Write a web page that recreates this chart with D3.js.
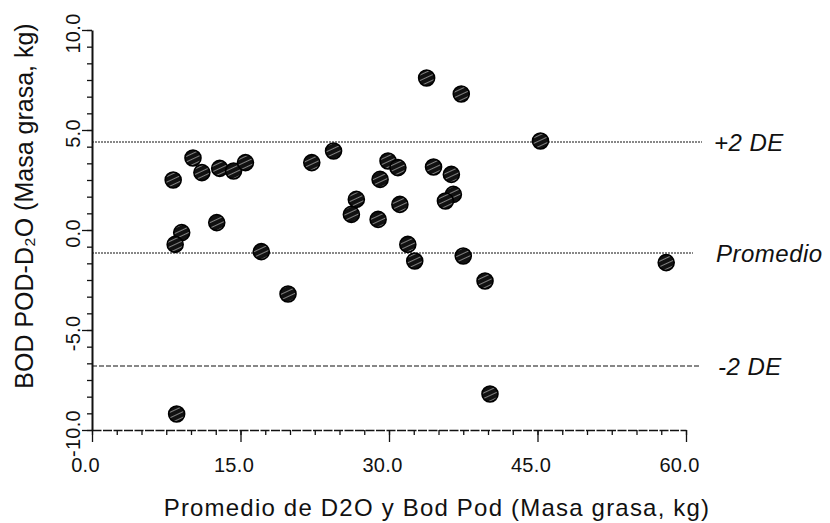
<!DOCTYPE html>
<html><head><meta charset="utf-8">
<script src="https://cdn.jsdelivr.net/npm/d3@7"></script>
<style>body{margin:0;background:#fff}svg text{font-family:"Liberation Sans",Arial,sans-serif;fill:#111}</style>
</head><body><svg id="c" width="830" height="523"></svg>
<script>
const meanX = [8.2,10.2,11.1,12.9,14.3,15.5,9.06,8.4,12.6,17.1,19.8,22.2,24.4,26.7,26.2,28.9,29.9,30.9,29.1,31.1,31.9,32.6,33.8,34.5,37.3,36.3,36.5,35.7,37.5,39.7,45.3,58.0,40.2,8.55];
const diffY = [2.5,3.6,2.87,3.08,2.95,3.37,-0.13,-0.72,0.37,-1.08,-3.2,3.37,3.95,1.53,0.78,0.53,3.45,3.12,2.53,1.28,-0.72,-1.55,7.6,3.15,6.8,2.78,1.78,1.45,-1.3,-2.55,4.45,-1.63,-8.2,-9.2];
const refNames = ["+2 DE","Promedio","-2 DE"];
const refValues = [4.4,-1.15,-6.8];
const xTicks = [0,15,30,45,60];
const yTicks = [-10,-5,0,5,10];
const xTitle = "Promedio de D2O y Bod Pod (Masa grasa, kg)";
const yTitle = "BOD POD-D\u2082O (Masa grasa, kg)";

const fmt = d => d3.format(".1f")(d).replace("\u2212","-");
const svg = d3.select("#c");
const x = d3.scaleLinear().domain([0,60]).range([92,686]);
const y = d3.scaleLinear().domain([-10,10]).range([430,30]);

const defs = svg.append("defs");
const pat = defs.append("pattern").attr("id","hatch").attr("patternUnits","userSpaceOnUse").attr("width",5).attr("height",5).attr("patternTransform","rotate(65)");
pat.append("rect").attr("width",5).attr("height",5).attr("fill","#111");
pat.append("line").attr("x1",0).attr("y1",0).attr("x2",0).attr("y2",5).attr("stroke","#ddd").attr("stroke-width",1.1);

// reference lines
const refEnds = [702,693,700];
const refDash = ["2,1","2,1","5,2"];
const refLabelX = [714,716,718];
refValues.forEach((v,i)=>{
  svg.append("line").attr("x1",x(0)).attr("x2",refEnds[i]).attr("y1",y(v)).attr("y2",y(v))
    .attr("stroke","#111").attr("stroke-width",1.2).attr("stroke-dasharray",refDash[i]);
  svg.append("text").attr("x",refLabelX[i]).attr("y",y(v)+9)
    .attr("font-size",24).attr("font-style","italic").attr("letter-spacing",0.5).text(refNames[i]);
});

// axes
const xMinor = d3.range(0,60.01,2.5);
const yMinor = d3.range(-10,10.01,5/6);
const gx = svg.append("g").attr("transform",`translate(0,${y(-10)})`);
gx.call(d3.axisBottom(x).tickValues(xMinor).tickSize(5).tickSizeOuter(0).tickFormat(""));
gx.selectAll(".tick line").attr("stroke-width",1.3).attr("stroke","#111");
gx.select(".domain").attr("stroke","#111").attr("stroke-width",1.6).attr("stroke-dasharray","9,1.5");
const gx2 = svg.append("g").attr("transform",`translate(0,${y(-10)})`);
gx2.call(d3.axisBottom(x).tickValues(xTicks).tickSize(12).tickSizeOuter(0).tickFormat(""));
gx2.select(".domain").remove();
gx2.selectAll(".tick line").attr("stroke-width",1.3).attr("stroke","#111");
gx2.selectAll(".tick").append("text").attr("x",-7).attr("y",42).attr("text-anchor","middle")
  .attr("font-size",20).attr("letter-spacing",0.3).text(fmt);

const gy = svg.append("g").attr("transform",`translate(${x(0)},0)`);
gy.call(d3.axisLeft(y).tickValues(yMinor).tickSize(5).tickSizeOuter(0).tickFormat(""));
gy.selectAll(".tick line").attr("stroke-width",1.3).attr("stroke","#111");
gy.select(".domain").attr("stroke","#111").attr("stroke-width",2);
const gy2 = svg.append("g").attr("transform",`translate(${x(0)},0)`);
gy2.call(d3.axisLeft(y).tickValues(yTicks).tickSize(10).tickSizeOuter(0).tickFormat(""));
gy2.select(".domain").remove();
gy2.selectAll(".tick line").attr("stroke-width",1.3).attr("stroke","#111");
gy2.selectAll(".tick").append("text").attr("transform","translate(-12,3) rotate(-90)")
  .attr("text-anchor","middle").attr("font-size",20).attr("letter-spacing",0.3).text(fmt);

// points
svg.append("g").selectAll("circle").data(meanX.map((d,i)=>[d,diffY[i]])).join("circle")
  .attr("cx",d=>x(d[0])).attr("cy",d=>y(d[1])).attr("r",8)
  .attr("fill","url(#hatch)").attr("stroke","#000").attr("stroke-width",1.6);

// titles
svg.append("text").attr("x",437).attr("y",516).attr("text-anchor","middle")
  .attr("font-size",24).attr("letter-spacing",1.2).text(xTitle);
svg.append("text").attr("transform","translate(33,206) rotate(-90)").attr("text-anchor","middle")
  .attr("font-size",25).text(yTitle);
</script></body></html>
